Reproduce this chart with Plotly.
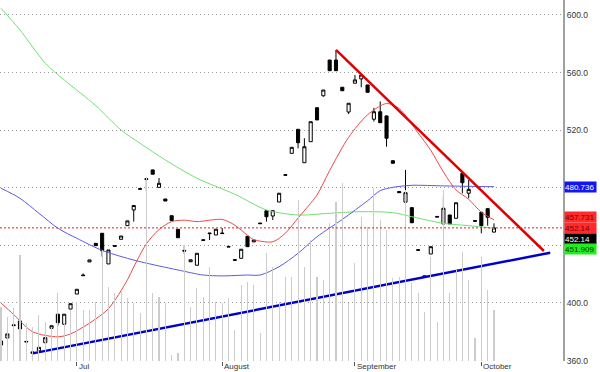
import plotly.graph_objects as go

# ---------------- data ----------------
opens = [370.8, 375.7, 384.8, 387.5, 373.3, 365.0, 366.8, 372.4, 382.4, 392.2,
         385.2, 395.8, 406.2, 419.4, 428.5, 441.4, 448.4, 427.1, 439.8, 444.2,
         453.7, 464.6, 479.4, 486.2, 492.4, 480.3, 472.2, 460.6, 451.2, 436.5,
         428.6, 426.2, 443.9, 448.6, 447.2, 448.6, 439.3, 430.1, 431.0, 446.3,
         442.4, 455.5, 464.0, 460.4, 470.1, 489.1, 503.9, 520.6, 497.4, 512.0,
         535.6, 543.9, 568.7, 568.7, 549.8, 532.6, 552.6, 555.6, 551.4, 527.6,
         532.8, 529.9, 498.8, 477.4, 470.0, 466.2, 437.0, 418.0, 434.0, 460.1,
         454.9, 461.1, 458.8, 490.0, 476.2, 457.2, 463.0, 465.5, 449.2]
highs = [373.8, 378.5, 384.9, 388.0, 373.4, 366.0, 369.2, 375.9, 384.2, 392.5,
         392.3, 399.5, 409.5, 420.5, 429.9, 441.5, 448.6, 436.8, 439.9, 446.5,
         457.0, 467.8, 479.5, 486.3, 492.5, 486.8, 472.3, 460.7, 451.3, 440.3,
         430.0, 434.5, 444.0, 448.7, 451.2, 452.0, 439.4, 430.2, 437.3, 446.4,
         443.7, 455.6, 464.1, 464.1, 476.2, 489.2, 508.1, 520.7, 514.4, 525.9,
         535.7, 547.9, 568.8, 575.7, 549.9, 538.7, 558.3, 558.3, 551.5, 535.5,
         540.0, 530.0, 498.9, 477.5, 492.4, 466.3, 437.1, 418.8, 439.1, 460.2,
         473.8, 461.2, 469.6, 490.1, 485.4, 457.3, 463.1, 465.6, 455.3]
lows = [370.6, 375.7, 384.2, 380.1, 372.9, 365.0, 366.8, 372.4, 382.4, 384.2,
        385.0, 395.8, 406.2, 419.0, 428.5, 439.8, 432.2, 427.1, 439.4, 444.2,
        453.7, 456.5, 479.0, 478.0, 489.4, 480.3, 470.8, 457.2, 445.3, 434.0,
        428.6, 426.2, 443.5, 443.7, 447.2, 448.2, 438.9, 429.7, 431.0, 439.1,
        442.4, 455.1, 456.5, 457.6, 470.1, 488.7, 503.9, 507.4, 497.4, 512.0,
        527.1, 543.2, 561.3, 561.3, 547.4, 531.2, 552.6, 549.8, 546.3, 526.0,
        525.2, 508.5, 497.0, 476.6, 470.0, 455.7, 436.6, 418.0, 434.0, 459.7,
        454.9, 454.9, 458.8, 476.2, 472.7, 456.8, 448.4, 453.7, 449.1]
closes = [373.6, 378.5, 384.3, 382.0, 373.0, 366.0, 369.2, 375.9, 384.2, 386.3,
          392.2, 399.5, 409.5, 419.0, 429.9, 439.8, 436.3, 436.8, 439.4, 446.5,
          457.0, 467.7, 479.0, 485.9, 489.4, 483.1, 470.8, 457.2, 445.3, 436.1,
          430.0, 434.5, 443.5, 448.2, 451.2, 448.2, 438.9, 429.7, 437.3, 439.1,
          443.7, 455.1, 459.9, 464.1, 476.2, 488.7, 508.1, 511.3, 508.5, 525.9,
          527.1, 547.9, 561.3, 561.3, 547.4, 538.7, 554.9, 558.3, 546.3, 532.8,
          525.2, 514.4, 497.0, 476.6, 476.6, 455.7, 436.6, 418.8, 439.1, 459.7,
          465.8, 454.9, 469.6, 483.5, 478.9, 456.8, 453.7, 459.5, 452.14]
volumes = [543, 443, 527, 1060, 377, 343, 460, 393, 343, 677,
           377, 510, 593, 510, 510, 593, 1110, 743, 677, 710,
           627, 577, 477, 1843, 677, 643, 577, 60, 77, 1160,
           543, 727, 643, 943, 593, 577, 627, 310, 760, 793,
           760, 277, 1077, 943, 593, 843, 843, 1610, 943, 1210,
           843, 810, 1377, 1593, 1777, 577, 977, 1443, 1343, 1727,
           1410, 1310, 827, 843, 1710, 777, 677, 493, 1043, 393,
           1710, 680, 910, 1093, 810, 230, 1043, 710, 510]
days = list(range(len(closes)))

# moving averages, read at selected days
red_ma_x = [0, 2, 5, 9, 11, 14, 17, 20, 21, 23, 25, 27, 29, 31, 35, 37, 39, 40,
            43, 45, 47, 50, 52, 55, 58, 61, 63, 66, 68, 70, 72, 74, 76, 78]
red_ma_y = [400, 392, 380, 376.5, 378.5, 386, 396, 416, 425, 441, 451, 456.5,
            457.5, 456.5, 458, 454, 447, 444, 442.5, 448.5, 459, 475, 492, 515,
            530.7, 538.5, 535, 518, 506, 491, 478.5, 472, 463, 457.731]
blue_ma_x = [0, 3, 6, 9, 12, 16, 20, 22, 25, 28, 32, 35, 39, 41, 44, 47, 50, 54,
             58, 60, 62, 65, 70, 74, 78]
blue_ma_y = [479.7, 472.7, 462.3, 451.9, 444.9, 436.5, 431, 428.7, 425.7, 422.9,
             419.4, 418.8, 419.4, 419.4, 425.2, 434.5, 446, 458, 471, 478,
             480.3, 481.7, 481.3, 481, 480.736]
green_ma_x = [0, 3, 7, 10, 15, 19, 22, 26, 31, 37, 42, 47, 52, 57, 62, 65, 70, 74, 78]
green_ma_y = [604.7, 589.6, 566.5, 554.9, 537, 520.1, 510.9, 499.3, 486.6, 475.5,
              464.6, 461.1, 462.3, 463.4, 462.7, 459.9, 455.3, 453.7, 451.909]

# trend lines (day, price)
red_trend_x = [53, 85.9]
red_trend_y = [575.7, 436.1]
blue_trend_x = [5, 86.9]
blue_trend_y = [365.0, 434.9]

# axis ticks (440 and 480 labels are hidden behind the value labels)
month_days = [12, 35, 56, 76]
month_labels = ["Jul", "August", "September", "October"]
price_ticks = [360, 400, 440, 480, 520, 560, 600]
price_tick_text = ["360.0", "400.0", "", "", "520.0", "560.0", "600.0"]

# right-hand value labels
label_vals = [480.736, 457.731, 452.14, 452.14, 451.909]
label_bg = ["#1414f5", "#ff2a2a", "#ff2a2a", "#000000", "#22ee22"]
label_fg = ["#ffffff", "#7a0000", "#7a0000", "#ffffff", "#003300"]
label_shift = [-0.6, 2.6, -0.5, -11.5, -20.8]

# ---------------- figure ----------------
FONT = "Liberation Sans, Arial, sans-serif"
fig = go.Figure()

fig.add_trace(go.Bar(x=days, y=volumes, yaxis="y2", width=0.17,
                     marker=dict(color="#cccccc", line=dict(width=0)),
                     hoverinfo="skip"))

fig.add_trace(go.Scatter(x=green_ma_x, y=green_ma_y, mode="lines",
                         line=dict(color="#70e070", width=1, shape="spline", smoothing=0.8),
                         hoverinfo="skip"))
fig.add_trace(go.Scatter(x=blue_ma_x, y=blue_ma_y, mode="lines",
                         line=dict(color="#5a5ae6", width=1, shape="spline", smoothing=0.8),
                         hoverinfo="skip"))
fig.add_trace(go.Scatter(x=red_ma_x, y=red_ma_y, mode="lines",
                         line=dict(color="#f04848", width=1, shape="spline", smoothing=0.8),
                         hoverinfo="skip"))

fig.add_trace(go.Candlestick(
    x=days, open=opens, high=highs, low=lows, close=closes,
    increasing=dict(line=dict(color="#000000", width=1), fillcolor="#ffffff"),
    decreasing=dict(line=dict(color="#000000", width=1), fillcolor="#000000"),
    whiskerwidth=0, hoverinfo="skip"))

fig.add_trace(go.Scatter(x=red_trend_x, y=red_trend_y, mode="lines",
                         line=dict(color="#e00000", width=2.5), hoverinfo="skip"))
fig.add_trace(go.Scatter(x=blue_trend_x, y=blue_trend_y, mode="lines",
                         line=dict(color="#0000cc", width=2.5), hoverinfo="skip"))

# dotted line at last close
fig.add_shape(type="line", xref="paper", x0=0, x1=1, yref="y",
              y0=closes[-1], y1=closes[-1],
              line=dict(color="#e02020", width=1, dash="2px,2px"))

annotations = []
for d, t in zip(month_days, month_labels):
    annotations.append(dict(x=d, xref="x", y=0, yref="paper", text=t,
                            showarrow=False, xanchor="left", yanchor="top",
                            xshift=0, yshift=1,
                            font=dict(family=FONT, size=8, color="#333333")))
for v, bg, fg, sh in zip(label_vals, label_bg, label_fg, label_shift):
    annotations.append(dict(x=1, xref="paper", y=v, yref="y", text=str(v),
                            showarrow=False, xanchor="left", yanchor="middle",
                            xshift=1, yshift=sh, bgcolor=bg, borderpad=0,
                            width=31, height=10, align="left",
                            font=dict(family=FONT, size=8, color=fg)))

fig.update_layout(
    width=600, height=372,
    margin=dict(l=0, r=37, t=0, b=11),
    paper_bgcolor="#ffffff", plot_bgcolor="#ffffff",
    showlegend=False, bargap=0,
    font=dict(family=FONT, size=8, color="#333333"),
    annotations=annotations,
    xaxis=dict(range=[-0.16, 88.92], tickvals=month_days, ticktext=month_labels,
               showticklabels=False, ticks="outside", ticklen=4, tickcolor="#555555",
               showgrid=False, zeroline=False, showline=False,
               rangeslider=dict(visible=False), fixedrange=True),
    yaxis=dict(side="right", range=[359.7, 610.4], tickvals=price_ticks,
               ticktext=price_tick_text, showgrid=True, gridcolor="#9a9a9a",
               griddash="1px,3px", gridwidth=1, zeroline=False, showline=True,
               linecolor="#a0a0a0", linewidth=2, ticks="", ticklabelstandoff=0,
               tickfont=dict(family=FONT, size=8.5, color="#333333"), fixedrange=True),
    yaxis2=dict(overlaying="y", range=[0, 3610], visible=False, fixedrange=True),
)

fig.write_html("out.html", config={"displayModeBar": False, "staticPlot": True},
               post_script="document.body.style.margin='0';document.body.style.overflow='hidden';")
